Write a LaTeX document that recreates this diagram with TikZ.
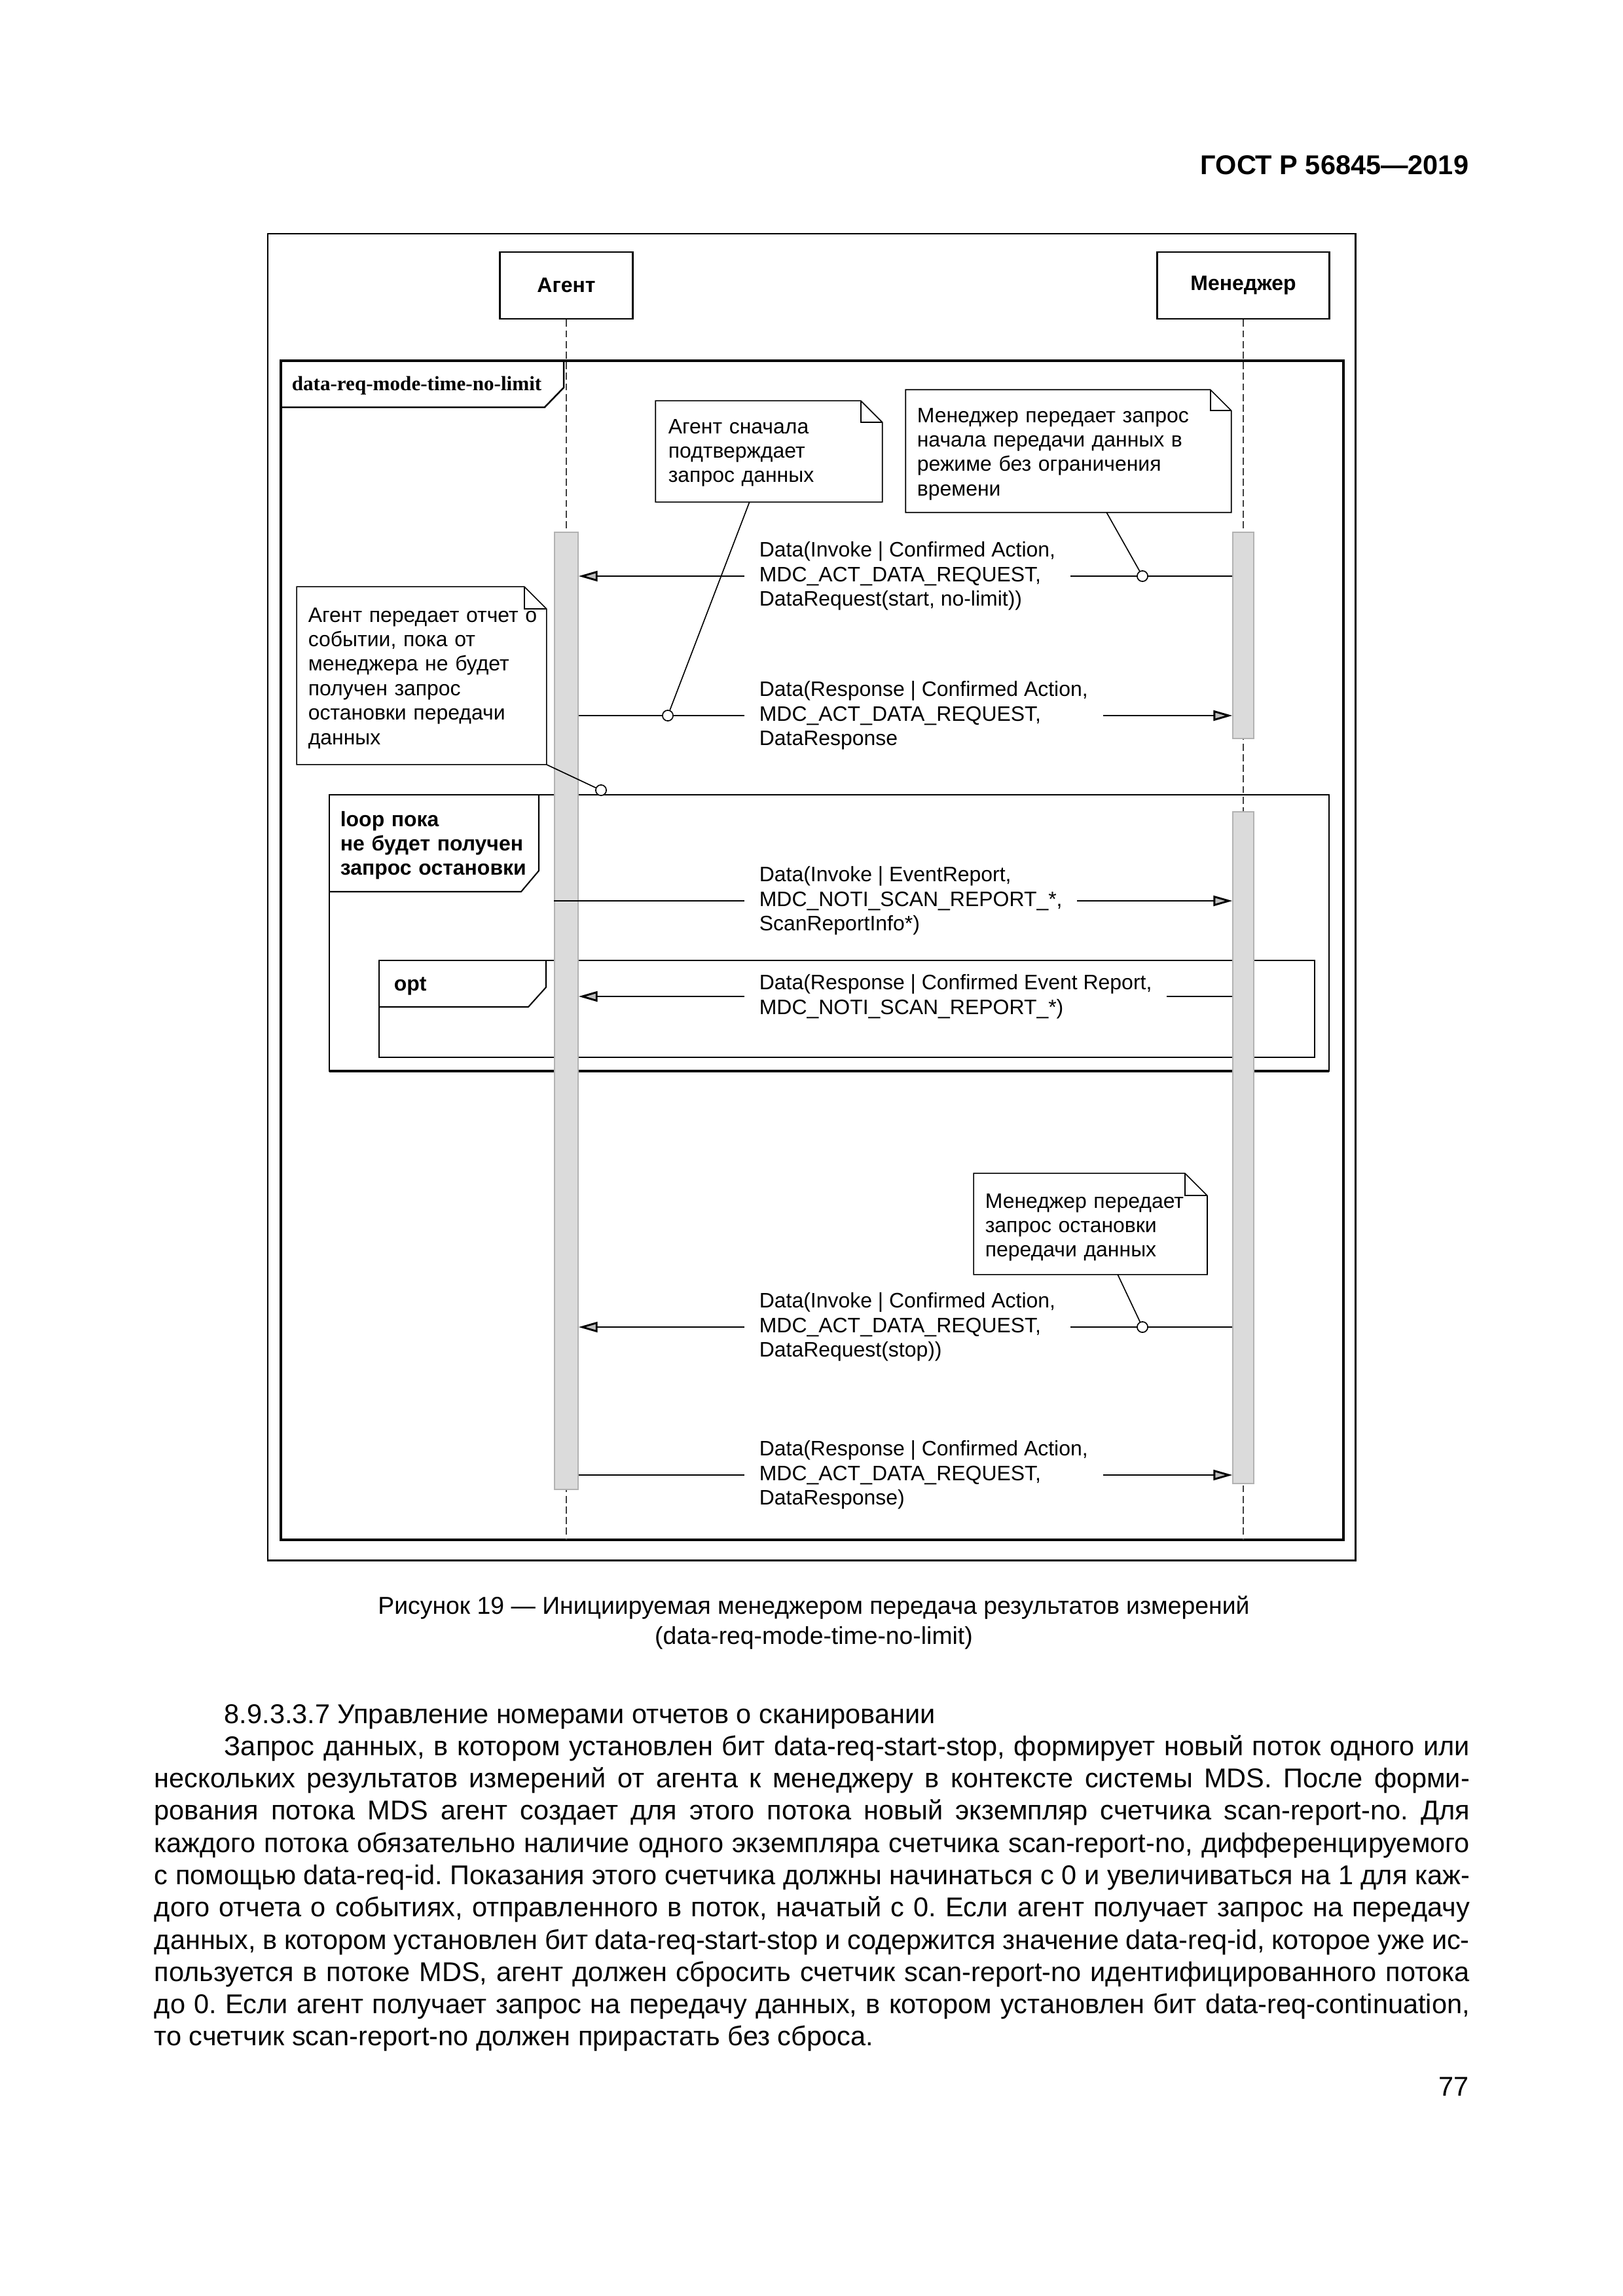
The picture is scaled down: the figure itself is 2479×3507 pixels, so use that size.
\documentclass[tikz,border=0pt]{standalone}
\usepackage{fontspec}
\setmainfont{Liberation Sans}
\newfontfamily\tnrfont{Liberation Serif}
\usetikzlibrary{arrows.meta,calc}
\frenchspacing
\newdimen\bodyw \bodyw=484.2pt
\newcommand\dgfont{\fontsize{7.7}{9.03}\selectfont}
\newcommand\bodyfont{\fontsize{10}{11.88}\selectfont}
\newcommand\jl[1]{\hbox to\bodyw{#1}}
\tikzset{
  actor/.style={draw, line width=0.7pt, fill=white, inner sep=0, font=\dgfont\bfseries},
  actbar/.style={draw=gray!60, fill=gray!28, line width=0.3pt, inner sep=0},
  lifeline/.style={draw=black!75, line width=0.4pt, dash pattern=on 2.6pt off 1.3pt},
  msg/.style={line width=0.7pt},
  msgtip/.style={msg, -{Triangle[length=7pt,width=3.8pt,fill=gray!50]}},
  msglabel/.style={font=\dgfont, align=left, inner xsep=5.3pt, inner ysep=0pt},
  notebody/.style={inner sep=0},
  noteline/.style={line width=0.4pt},
  notetext/.style={font=\dgfont, align=left, inner sep=0, anchor=base west},
  anchorc/.style={circle, draw, fill=white, line width=0.4pt, minimum size=3.9pt, inner sep=0},
}
\newcommand\notefold[2]{%
  \filldraw[noteline, fill=white] (#1.north west) -- ($(#1.north east)+(-#2,0)$) -- ($(#1.north east)+(0,#2)$) -- (#1.south east) -- (#1.south west) -- cycle;
  \draw[noteline] ($(#1.north east)+(-#2,0)$) -- ($(#1.north east)+(-#2,#2)$) -- ($(#1.north east)+(0,#2)$);
}
\begin{document}
\begin{tikzpicture}[x=0.0847mm, y=-0.0847mm]
\useasboundingbox (0,0) rectangle (2479,3507);
\fill[white] (0,0) rectangle (2479,3507);

\node[anchor=base east, font=\fontsize{10}{12}\selectfont\bfseries, inner sep=0] (hdr) at (2244,266) {ГОСТ Р 56845—2019};

% frames
\draw[line width=0.72pt] (409,357) rectangle (2070,2383);
\draw[line width=0.96pt] (429,551) rectangle (2052,2352);
\draw[line width=0.6pt] (429,551) -- (861,551) -- (861,592) -- (832,622) -- (429,622);
\node[anchor=base west, inner sep=0, font=\fontsize{7.5}{9}\selectfont\tnrfont\bfseries] (fname) at (445,596) {data-req-mode-time-no-limit};

\draw[line width=0.6pt] (503,1214) rectangle (2030,1636);
\draw[line width=1pt] (503,1636) -- (2030,1636);
\draw[line width=0.5pt] (823,1214) -- (823,1330) -- (796,1362) -- (503,1362);
\node[notetext, font=\dgfont\bfseries, text width=80pt] (looplbl) at (519,1262) {loop пока\\не будет получен\\запрос остановки};

\draw[line width=0.5pt] (579,1467) rectangle (2008,1615);
\draw[line width=0.5pt] (834,1467) -- (834,1508) -- (807,1538) -- (579,1538);
\node[notetext, font=\dgfont\bfseries] (optlbl) at (601,1513) {opt};

% actors and lifelines
\node[actor, minimum width=48.9pt, minimum height=24.6pt] (agent) at (865,436) {Агент};
\node[actor, minimum width=63.4pt, minimum height=24.6pt] (mgr) at (1899,436) {Менеджер};
\coordinate (aend) at (865,2352);
\coordinate (mend) at (1899,2352);
\draw[lifeline] (agent.south) -- (aend);
\draw[lifeline] (mgr.south) -- (mend);
\node[actbar, minimum width=8.7pt, minimum height=352.3pt] (ab) at (865,1544) {};
\node[actbar, minimum width=7.7pt, minimum height=75.9pt] (mb1) at (1899,970.5) {};
\node[actbar, minimum width=7.7pt, minimum height=247.3pt] (mb2) at (1899,1753) {};

% messages
\node[msglabel, anchor=west] (m1) at (1137,880) {Data(Invoke | Confirmed Action,\\MDC\_ACT\_DATA\_REQUEST,\\DataRequest(start, no-limit))};
\draw[msg] (mb1.west |- m1.west) -- (m1.east);
\draw[msgtip] (m1.west) -- (ab.east |- m1.west);

\node[msglabel, anchor=west] (m2) at (1137,1093) {Data(Response | Confirmed Action,\\MDC\_ACT\_DATA\_REQUEST,\\DataResponse};
\draw[msg] (ab.east |- m2.west) -- (m2.west);
\draw[msgtip] (m2.east) -- (mb1.west |- m2.east);

\node[msglabel, anchor=west] (m3) at (1137,1376) {Data(Invoke | EventReport,\\MDC\_NOTI\_SCAN\_REPORT\_*,\\ScanReportInfo*)};
\draw[msg] (ab.west |- m3.west) -- (m3.west);
\draw[msgtip] (m3.east) -- (mb2.west |- m3.east);

\node[msglabel, anchor=west] (m4) at (1137,1522) {Data(Response | Confirmed Event Report,\\MDC\_NOTI\_SCAN\_REPORT\_*)};
\draw[msg] (mb2.west |- m4.west) -- (m4.east);
\draw[msgtip] (m4.west) -- (ab.east |- m4.west);

\node[msglabel, anchor=west] (m5) at (1137,2027) {Data(Invoke | Confirmed Action,\\MDC\_ACT\_DATA\_REQUEST,\\DataRequest(stop))};
\draw[msg] (mb2.west |- m5.west) -- (m5.east);
\draw[msgtip] (m5.west) -- (ab.east |- m5.west);

\node[msglabel, anchor=west] (m6) at (1137,2253) {Data(Response | Confirmed Action,\\MDC\_ACT\_DATA\_REQUEST,\\DataResponse)};
\draw[msg] (ab.east |- m6.west) -- (m6.west);
\draw[msgtip] (m6.east) -- (mb2.west |- m6.east);

% anchor circles
\node[anchorc] (c1) at (1745,880) {};
\node[anchorc] (c2) at (1020,1093) {};
\node[anchorc] (c3) at (918,1207) {};
\node[anchorc] (c4) at (1745,2027) {};

% notes
\node[notebody, minimum width=83.1pt, minimum height=36.9pt] (n1) at (1174.5,689.5) {};
\notefold{n1}{33}
\node[notetext, text width=80pt] (n1t) at (1020,662) {Агент сначала\\подтверждает\\запрос данных};
\draw[noteline] ($(n1.south west)!0.414!(n1.south east)$) -- (c2);

\node[notebody, minimum width=119.5pt, minimum height=44.8pt] (n2) at (1632,689) {};
\notefold{n2}{32}
\node[notetext, text width=118pt] (n2t) at (1400,645) {Менеджер передает запрос\\начала передачи данных в\\режиме без ограничения\\времени};
\draw[noteline] ($(n2.south west)!0.617!(n2.south east)$) -- (c1);

\node[notebody, minimum width=91.6pt, minimum height=65.1pt] (n3) at (644,1032) {};
\notefold{n3}{34}
\node[notetext, text width=95pt] (n3t) at (470,950) {Агент передает отчет о\\событии, пока  от\\менеджера не будет\\получен запрос\\остановки передачи\\данных};
\draw[noteline] (n3.south east) -- (c3);

\node[notebody, minimum width=85.6pt, minimum height=36.9pt] (n4) at (1665.5,1869.5) {};
\notefold{n4}{34}
\node[notetext, text width=84pt] (n4t) at (1504,1845) {Менеджер передает\\запрос остановки\\передачи данных};
\draw[noteline] ($(n4.south west)!0.617!(n4.south east)$) -- (c4);

% caption
\node[font=\fontsize{9}{11.3}\selectfont, align=center, inner sep=0] (cap) at (1243,2478.5) {Рисунок 19 — Инициируемая менеджером передача результатов измерений\\(data-req-mode-time-no-limit)};

% body text
\node[anchor=base west, inner sep=0, font=\bodyfont] (body) at (235,2632) {\vtop{\spaceskip=2.78pt plus 4pt minus 1.2pt
\hbox{\hspace*{25.8pt}8.9.3.3.7 Управление номерами отчетов о сканировании}
\jl{\hspace*{25.8pt}Запрос данных, в котором установлен бит data-req-start-stop, формирует новый поток одного или}
\jl{нескольких результатов измерений от агента к менеджеру в контексте системы MDS. После форми-}
\jl{рования потока MDS агент создает для этого потока новый экземпляр счетчика scan-report-no. Для}
\jl{каждого потока обязательно наличие одного экземпляра счетчика scan-report-no, дифференцируемого}
\jl{с помощью data-req-id. Показания этого счетчика должны начинаться с 0 и увеличиваться на 1 для каж-}
\jl{дого отчета о событиях, отправленного в поток, начатый с 0. Если агент получает запрос на передачу}
\jl{данных, в котором установлен бит data-req-start-stop и содержится значение data-req-id, которое уже ис-}
\jl{пользуется в потоке MDS, агент должен сбросить счетчик scan-report-no идентифицированного потока}
\jl{до 0. Если агент получает запрос на передачу данных, в котором установлен бит data-req-continuation,}
\hbox{то счетчик scan-report-no должен прирастать без сброса.}}};

\node[anchor=base east, inner sep=0, font=\bodyfont] (pg) at (2244,3201) {77};
\end{tikzpicture}
\end{document}
